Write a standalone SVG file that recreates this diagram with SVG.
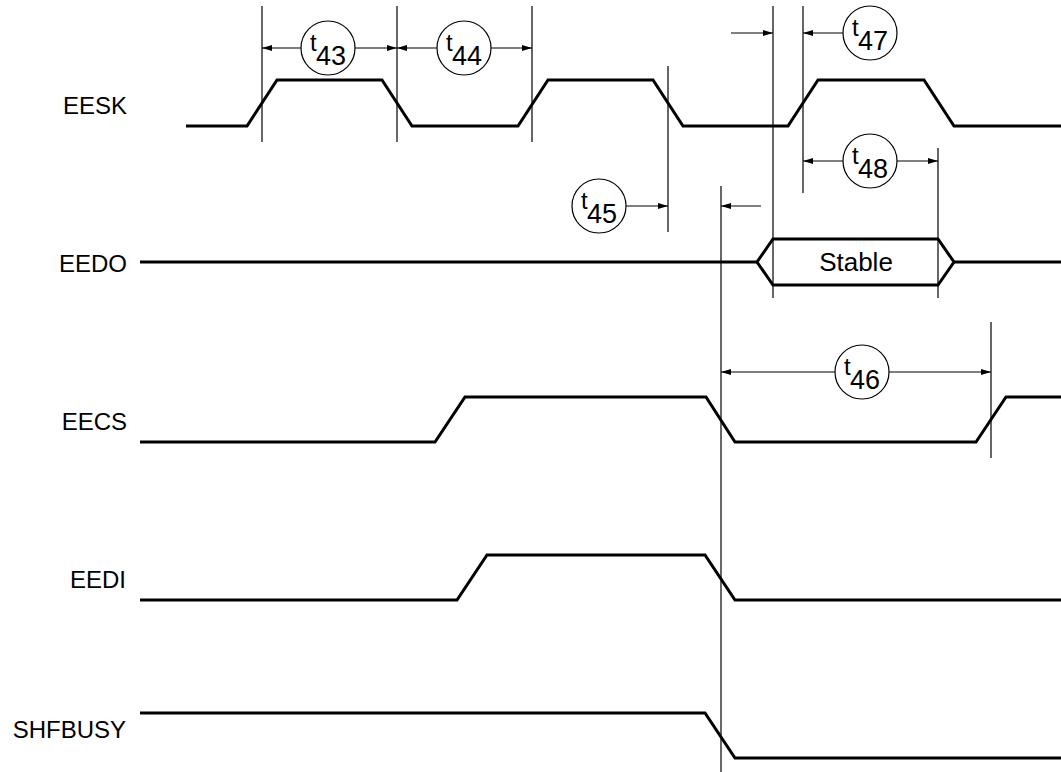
<svg xmlns="http://www.w3.org/2000/svg" width="1061" height="772" viewBox="0 0 1061 772">
<defs>
<style>
.sig{fill:none;stroke:#000;stroke-width:3;stroke-linejoin:miter}
.ref{fill:none;stroke:#000;stroke-width:1.2}
.dim{fill:none;stroke:#000;stroke-width:1.1;marker-end:url(#ah)}
.lbl{font-family:"Liberation Sans",Arial,sans-serif;font-size:24px;fill:#000}
.tc{fill:#fff;stroke:#000;stroke-width:1.2}
.tt{font-family:"Liberation Sans",Arial,sans-serif;font-size:24px;fill:#000}
.tn{font-family:"Liberation Sans",Arial,sans-serif;font-size:27px;fill:#000}
</style>
<marker id="ah" viewBox="0 0 10 6" refX="10" refY="3" markerWidth="10" markerHeight="6" markerUnits="userSpaceOnUse" orient="auto">
<path d="M0,0 L10,3 L0,6 Z" fill="#000"/>
</marker>
</defs>
<rect width="1061" height="772" fill="#fff"/>

<g id="labels">
<text class="lbl" x="127" y="114" text-anchor="end">EESK</text>
<text class="lbl" x="127" y="272" text-anchor="end">EEDO</text>
<text class="lbl" x="127" y="430" text-anchor="end">EECS</text>
<text class="lbl" x="126" y="588" text-anchor="end">EEDI</text>
<text class="lbl" x="126" y="738" text-anchor="end">SHFBUSY</text>
</g>

<g id="signals">
<polyline id="EESK" class="sig" points="186,126 247,126 277,80 382,80 412,126 518,126 548,80 653,80 683,126 788,126 818,80 924,80 954,126 1061,126"/>
<g id="EEDO">
<polyline class="sig" points="140,262 757,262"/>
<polygon class="sig" points="757,262 773,239 938,239 954,262 938,285 773,285"/>
<polyline class="sig" points="954,262 1061,262"/>
<text class="lbl" x="856" y="271" text-anchor="middle" style="font-size:26px">Stable</text>
</g>
<polyline id="EECS" class="sig" points="140,442 435,442 465,397 706,397 735,442 976,442 1006,397 1061,397"/>
<polyline id="EEDI" class="sig" points="140,600 457,600 487,555 705,555 735,600 1061,600"/>
<polyline id="SHFBUSY" class="sig" points="140,713 705,713 735,758 1061,758"/>
</g>

<g id="connectors">
<line class="ref" x1="262" y1="6" x2="262" y2="142"/>
<line class="ref" x1="397" y1="6" x2="397" y2="142"/>
<line class="ref" x1="532" y1="6" x2="532" y2="142"/>
<line class="ref" x1="668" y1="66" x2="668" y2="232"/>
<line class="ref" x1="773" y1="6" x2="773" y2="298"/>
<line class="ref" x1="803" y1="6" x2="803" y2="193"/>
<line class="ref" x1="938" y1="148" x2="938" y2="298"/>
<line class="ref" x1="721" y1="186" x2="721" y2="772"/>
<line class="ref" x1="991" y1="322" x2="991" y2="458"/>

<line class="dim" x1="302" y1="48" x2="262" y2="48"/>
<line class="dim" x1="355" y1="48" x2="397" y2="48"/>
<line class="dim" x1="437" y1="48" x2="397" y2="48"/>
<line class="dim" x1="491" y1="48" x2="532" y2="48"/>
<line class="dim" x1="731" y1="33" x2="773" y2="33"/>
<line class="dim" x1="843" y1="33" x2="803" y2="33"/>
<line class="dim" x1="843" y1="161" x2="803" y2="161"/>
<line class="dim" x1="897" y1="161" x2="938" y2="161"/>
<line class="dim" x1="626" y1="206" x2="668" y2="206"/>
<line class="dim" x1="761" y1="206" x2="721" y2="206"/>
<line class="dim" x1="835" y1="372" x2="721" y2="372"/>
<line class="dim" x1="889" y1="372" x2="991" y2="372"/>
</g>

<g id="t43">
<circle class="tc" cx="328" cy="48" r="27"/>
<text class="tt" x="310" y="51">t</text><text class="tn" x="316" y="65">43</text>
</g>
<g id="t44">
<circle class="tc" cx="464" cy="48" r="27"/>
<text class="tt" x="446" y="51">t</text><text class="tn" x="452" y="65">44</text>
</g>
<g id="t47">
<circle class="tc" cx="870" cy="33" r="27"/>
<text class="tt" x="852" y="36">t</text><text class="tn" x="858" y="50">47</text>
</g>
<g id="t48">
<circle class="tc" cx="870" cy="161" r="27"/>
<text class="tt" x="852" y="164">t</text><text class="tn" x="858" y="178">48</text>
</g>
<g id="t45">
<circle class="tc" cx="599" cy="206" r="27"/>
<text class="tt" x="581" y="209">t</text><text class="tn" x="587" y="223">45</text>
</g>
<g id="t46">
<circle class="tc" cx="862" cy="372" r="27"/>
<text class="tt" x="844" y="375">t</text><text class="tn" x="850" y="389">46</text>
</g>
</svg>
